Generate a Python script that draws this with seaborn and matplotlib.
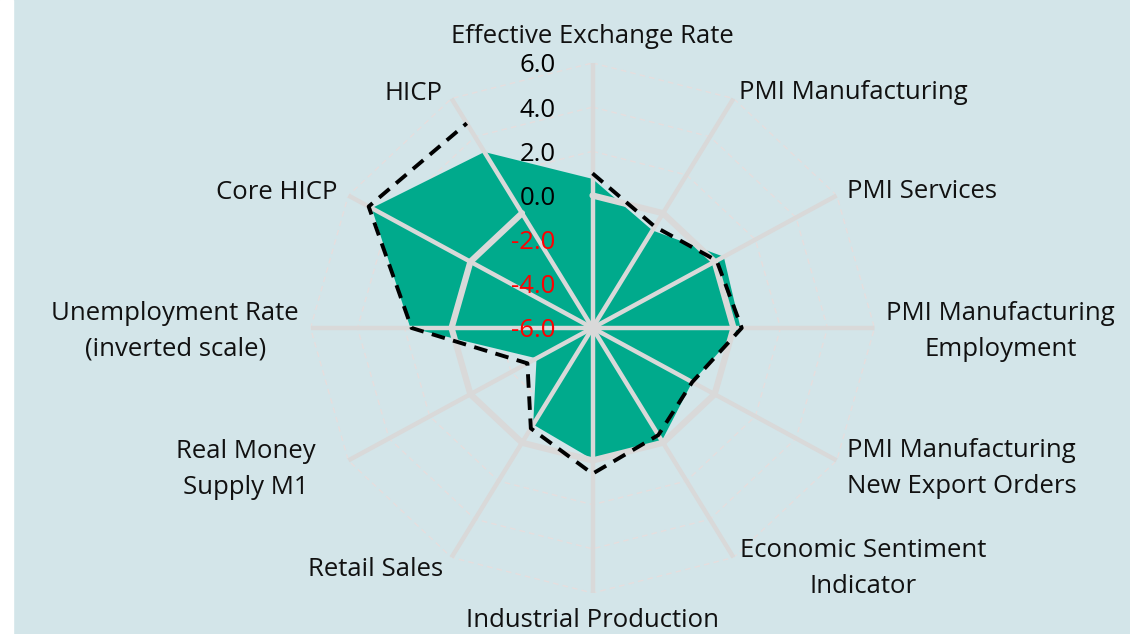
import numpy as np
import pandas as pd
import matplotlib
matplotlib.use("Agg")
import matplotlib.pyplot as plt
from matplotlib.patches import Rectangle
import seaborn as sns

categories = [
    "Effective Exchange Rate",
    "PMI Manufacturing",
    "PMI Services",
    "PMI Manufacturing\nEmployment",
    "PMI Manufacturing\nNew Export Orders",
    "Economic Sentiment\nIndicator",
    "Industrial Production",
    "Retail Sales",
    "Real Money\nSupply M1",
    "Unemployment Rate\n(inverted scale)",
    "Core HICP",
    "HICP",
]
current = [0.75, -0.9, 0.45, 0.3, -1.1, -0.1, -0.05, -0.95, -3.25, 1.75, 4.85, 3.2]
previous = [1.0, -0.7, 0.1, 0.35, -1.1, -0.4, 0.6, -0.75, -2.8, 1.7, 5.0, 4.7]
zero_line = [0.0] * len(categories)
rticks = [6.0, 4.0, 2.0, 0.0, -2.0, -4.0, -6.0]

# label placement: alignment and pixel offset from the outer vertex
label_ha = ["center", "left", "left", "left", "left", "left",
            "center", "right", "right", "right", "right", "right"]
label_dx = [-0.5, 5.5, 10, 11.5, 10, 6.5, -0.5, -8.5, -33, -11.5, -11, -9.5]
label_dy = [26.5, 6, 4, -3.5, -8, -11, -27.5, -12, -9, -3.5, 3, 5]

bg = "#D3E5E9"
green = "#00AA8C"
grid_grey = "#D9D9D9"

sns.set_style("white")
plt.rcParams["font.family"] = ["Open Sans", "DejaVu Sans"]

n = len(categories)
angles = np.linspace(0, 2 * np.pi, n, endpoint=False)
closed = np.append(angles, angles[0])

df = pd.DataFrame({
    "angle": closed,
    "current": current + current[:1],
    "previous": previous + previous[:1],
    "zero": zero_line + zero_line[:1],
})

fig = plt.figure(figsize=(11.3, 6.34), dpi=100, facecolor=bg)
fig.patches.append(Rectangle((0, 0), 13 / 1130, 1, transform=fig.transFigure,
                             color="white", zorder=0))
ax = fig.add_axes([0.2748, 0.0647, 0.4991, 0.836], projection="polar")
ax.set_theta_zero_location("N")
ax.set_theta_direction(-1)
ax.set_aspect("auto")
ax.patch.set_visible(False)
ax.spines["polar"].set_visible(False)
ax.grid(False)
ax.set_xticks([])
ax.set_yticks([])
ax.set_ylim(-6, 6)

# thin dashed rings
for r in [-4, -2, 2, 4, 6]:
    ax.plot(closed, [r] * (n + 1), color="#E6DEDE", lw=1, ls=(0, (4, 3)), zorder=1)

ax.fill(df["angle"], df["current"], color=green, lw=0, zorder=2)

for a in angles:
    ax.plot([a, a], [-6, 6], color=grid_grey, lw=3.2, zorder=3, solid_capstyle="butt")
sns.lineplot(data=df, x="angle", y="zero", sort=False, color=grid_grey, lw=4.5,
             zorder=3, ax=ax)
sns.lineplot(data=df, x="angle", y="previous", sort=False, color="black", lw=2.8,
             dashes=False, zorder=4, ax=ax).lines[-1].set_dashes([3.5, 2.2])
ax.set_xlabel("")
ax.set_ylabel("")

for v in rticks:
    ax.annotate(f"{v:.1f}", xy=(0, v), xytext=(-37, -3), textcoords="offset pixels",
                ha="right", va="center", fontsize=18.5,
                color="red" if v < 0 else "black", zorder=5)

for a, lab, ha, dx, dy in zip(angles, categories, label_ha, label_dx, label_dy):
    ax.annotate(lab, xy=(a, 6), xytext=(dx, dy), textcoords="offset pixels",
                ha=ha, va="center", multialignment="center", fontsize=18.5,
                linespacing=1.55, color="#111111", annotation_clip=False)

fig.savefig("out.png", dpi=100, facecolor=bg)
